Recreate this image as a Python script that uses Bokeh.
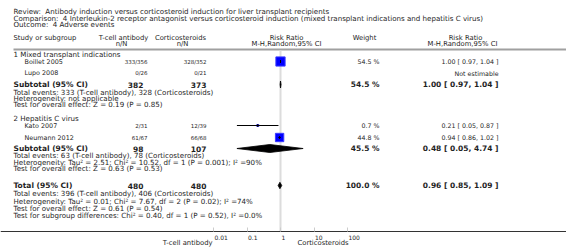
import math
from bokeh.plotting import figure
from bokeh.models import (Range1d, LogScale, LogAxis, FixedTicker,
                          CustomJSTickFormatter, ColumnDataSource)
from bokeh.core.properties import value
from bokeh.embed import file_html
from bokeh.resources import INLINE

# ---------------- data ----------------
review_title = "Review:\u00a0 Antibody induction versus corticosteroid induction for liver transplant recipients"
comparison_title = "Comparison:\u00a0 4 Interleukin-2 receptor antagonist versus corticosteroid induction (mixed transplant indications and hepatitis C virus)"
outcome_title = "Outcome:\u00a0 4 Adverse events"

arm1 = "T-cell antibody"
arm2 = "Corticosteroids"

group_names = ["1 Mixed transplant indications", "2 Hepatitis C virus"]
studies = ["Boillet 2005", "Lupo 2008", "Kato 2007", "Neumann 2012"]
tcell_events = [333, 0, 2, 61]
tcell_total = [356, 26, 31, 67]
cort_events = [328, 0, 12, 66]
cort_total = [352, 21, 39, 68]
weights = [54.5, None, 0.7, 44.8]
rr = [1.00, None, 0.21, 0.94]
rr_lo = [0.97, None, 0.05, 0.86]
rr_hi = [1.04, None, 0.87, 1.02]

sub_tcell_total = [382, 98]
sub_cort_total = [373, 107]
sub_tcell_events = [333, 63]
sub_cort_events = [328, 78]
sub_weight = [54.5, 45.5]
sub_rr = [1.00, 0.48]
sub_lo = [0.97, 0.05]
sub_hi = [1.04, 4.74]
sub_heterogeneity = ["Heterogeneity: not applicable",
                     "Heterogeneity: Tau\u00b2 = 2.51; Chi\u00b2 = 10.52, df = 1 (P = 0.001); I\u00b2 =90%"]
sub_effect = ["Test for overall effect: Z = 0.19 (P = 0.85)",
              "Test for overall effect: Z = 0.63 (P = 0.53)"]

total_tcell_total = 480
total_cort_total = 480
total_tcell_events = 396
total_cort_events = 406
total_weight = 100.0
total_rr = 0.96
total_lo = 0.85
total_hi = 1.09
total_heterogeneity = "Heterogeneity: Tau\u00b2 = 0.01; Chi\u00b2 = 7.67, df = 2 (P = 0.02); I\u00b2 =74%"
total_effect = "Test for overall effect: Z = 0.61 (P = 0.54)"
subgroup_diff = "Test for subgroup differences: Chi\u00b2 = 0.40, df = 1 (P = 0.52), I\u00b2 =0.0%"

axis_ticks = [0.01, 0.1, 1, 10, 100]

# ---------------- layout ----------------
W, H = 566, 248
FONT = "DejaVu Sans"
TXT = "#1e1e1e"
INFO = 7.1       # info / title lines
HEAD = 6.8       # column headers
NAME = 6.4       # study names
NN = 5.5         # n/N cells
NUM = 6.3        # weight / RR cells
BOLD = 7.5

X_LEFT = 13
X_STUDY = 24
X_N1 = 147
X_N2 = 206
X_SUB_N1 = 143
X_SUB_N2 = 206
X_W = 379
X_RR = 498
X_ONE = 280          # pixel of RR = 1
DECADE = 33.5        # pixels per decade
Y_AXIS = 231
Y_TOP_LINE = 49

title_y = [11, 17.5, 24]
header_y = [37, 43]
group_y = [54, 118]
study_y = [61, 72.5, 125, 137]
sub_y = [84, 148]
sub_info_y = [[91.7, 98.2, 104.3], [155, 161.7, 168.3]]
total_y = 185
total_info_y = [193.3, 201.2, 208.2, 215]

p = figure(width=W, height=H, output_backend="svg", toolbar_location=None,
           x_range=Range1d(0, W), y_range=Range1d(H, 0), min_border=0,
           x_axis_type=None, y_axis_type=None)
p.outline_line_color = None
p.background_fill_color = "white"
p.border_fill_color = "white"

lo_log = -X_ONE / DECADE
hi_log = (W - X_ONE) / DECADE
p.extra_x_ranges = {"rr": Range1d(10 ** lo_log, 10 ** hi_log)}
p.extra_x_scales = {"rr": LogScale()}


def txt(xs, ys, texts, size=INFO, align="left", bold=False, color=TXT):
    src = ColumnDataSource(dict(x=list(xs), y=list(ys), t=list(texts)))
    p.text(x="x", y="y", text="t", source=src, text_font=value(FONT),
           text_font_size=f"{size}px", text_align=align, text_baseline="middle",
           text_font_style="bold" if bold else "normal", text_color=color)


def fmt_ci(r, lo, hi):
    return f"{r:.2f} [ {lo:.2f}, {hi:.2f} ]"


# titles
txt([X_LEFT] * 3, title_y, [review_title, comparison_title, outcome_title])

# column headers
txt([X_LEFT], [header_y[0]], ["Study or subgroup"], size=HEAD)
txt([123, 121, 180, 182], [header_y[0], header_y[1], header_y[0], header_y[1]],
    [arm1, "n/N", arm2, "n/N"], size=HEAD, align="center")
txt([286, 286, 364, 465, 462], [header_y[0], header_y[1], header_y[0], header_y[0], header_y[1]],
    ["Risk Ratio", "M-H,Random,95% CI", "Weight", "Risk Ratio", "M-H,Random,95% CI"],
    size=HEAD, align="center")

# header rule
p.segment(x0=[X_LEFT], x1=[W], y0=[Y_TOP_LINE], y1=[Y_TOP_LINE],
          line_color="#a0a0a0", line_width=2)

# vertical line of no effect
p.segment(x0=[1], x1=[1], y0=[Y_TOP_LINE + 1], y1=[Y_AXIS], x_range_name="rr",
          line_color="#dcdcdc", line_width=2)

# group labels
txt([X_LEFT] * 2, group_y, group_names)

# study rows
txt([X_STUDY] * len(studies), study_y, studies, size=NAME)
txt([X_N1] * len(studies), study_y,
    [f"{e}/{n}" for e, n in zip(tcell_events, tcell_total)], size=NN, align="right")
txt([X_N2] * len(studies), study_y,
    [f"{e}/{n}" for e, n in zip(cort_events, cort_total)], size=NN, align="right")
txt([X_W] * len(studies), study_y,
    ["" if w is None else f"{w:.1f} %" for w in weights], size=NUM, align="right")
txt([X_RR] * len(studies), study_y,
    ["Not estimable" if r is None else fmt_ci(r, l, h) for r, l, h in zip(rr, rr_lo, rr_hi)],
    size=NUM, align="right")

# study markers
idx = [i for i, r in enumerate(rr) if r is not None]
sq = ColumnDataSource(dict(x=[rr[i] for i in idx], y=[study_y[i] for i in idx],
                           s=[max(2.0, 1.25 * math.sqrt(weights[i])) for i in idx]))
p.scatter(x="x", y="y", size="s", source=sq, marker="square", x_range_name="rr",
          fill_color="#0000ff", line_color="#3c3cff", line_width=1)
p.segment(x0=[rr_lo[i] for i in idx], x1=[rr_hi[i] for i in idx],
          y0=[study_y[i] for i in idx], y1=[study_y[i] for i in idx],
          x_range_name="rr", line_color="black", line_width=1)
p.segment(x0=[rr[i] for i in idx], x1=[rr[i] for i in idx],
          y0=[study_y[i] - 1.5 for i in idx], y1=[study_y[i] + 1.5 for i in idx],
          x_range_name="rr", line_color="black", line_width=1)

# subtotal rows
txt([X_LEFT] * 2, sub_y, ["Subtotal (95% CI)"] * 2, size=BOLD, bold=True)
txt([X_SUB_N1] * 2, sub_y, [str(v) for v in sub_tcell_total], size=BOLD, bold=True, align="right")
txt([X_SUB_N2] * 2, sub_y, [str(v) for v in sub_cort_total], size=BOLD, bold=True, align="right")
txt([X_W] * 2, sub_y, [f"{w:.1f} %" for w in sub_weight], size=BOLD, bold=True, align="right")
txt([X_RR] * 2, sub_y, [fmt_ci(r, l, h) for r, l, h in zip(sub_rr, sub_lo, sub_hi)],
    size=BOLD, bold=True, align="right")
for g in range(2):
    ys = sub_info_y[g]
    txt([X_LEFT] * 3, ys,
        [f"Total events: {sub_tcell_events[g]} ({arm1}), {sub_cort_events[g]} ({arm2})",
         sub_heterogeneity[g], sub_effect[g]])

# diamonds
dh = [3.5, 4.0]
p.patches(xs=[[l, r, h, r] for l, r, h in zip(sub_lo, sub_rr, sub_hi)],
          ys=[[y, y - d, y, y + d] for y, d in zip(sub_y, dh)],
          x_range_name="rr", fill_color="black", line_color="black", line_width=0.8)
p.patches(xs=[[total_lo, total_rr, total_hi, total_rr]],
          ys=[[total_y, total_y - 3.2, total_y, total_y + 3.2]],
          x_range_name="rr", fill_color="black", line_color="black", line_width=0.8)

# total row
txt([X_LEFT], [total_y], ["Total (95% CI)"], size=BOLD, bold=True)
txt([X_SUB_N1, X_SUB_N2], [total_y] * 2, [str(total_tcell_total), str(total_cort_total)],
    size=BOLD, bold=True, align="right")
txt([X_W], [total_y], [f"{total_weight:.1f} %"], size=BOLD, bold=True, align="right")
txt([X_RR], [total_y], [fmt_ci(total_rr, total_lo, total_hi)], size=BOLD, bold=True, align="right")
txt([X_LEFT] * 4, total_info_y,
    [f"Total events: {total_tcell_events} ({arm1}), {total_cort_events} ({arm2})",
     total_heterogeneity, total_effect, subgroup_diff])

# axis (tick labels start just right of their tick, as in the reference)
ax = LogAxis(x_range_name="rr", fixed_location=Y_AXIS,
             ticker=FixedTicker(ticks=axis_ticks),
             formatter=CustomJSTickFormatter(code="""
                 const s = String(tick);
                 let n = 1;
                 for (const c of s) n += (c === '.') ? 1 : 2;
                 return '\\u00a0'.repeat(n) + s;
             """))
ax.axis_line_color = "#333333"
ax.axis_line_width = 1
ax.major_tick_in = 4
ax.major_tick_out = 0
ax.major_tick_line_color = "#cccccc"
ax.minor_tick_line_color = None
ax.major_label_text_font = FONT
ax.major_label_text_font_size = "6px"
ax.major_label_text_color = TXT
ax.major_label_standoff = 2
p.add_layout(ax, "below")

# axis side labels
txt([212], [242], [arm1], size=HEAD, align="right")
txt([297], [242], [arm2], size=HEAD, align="left")

open("out.html", "w").write(file_html(p, INLINE))
